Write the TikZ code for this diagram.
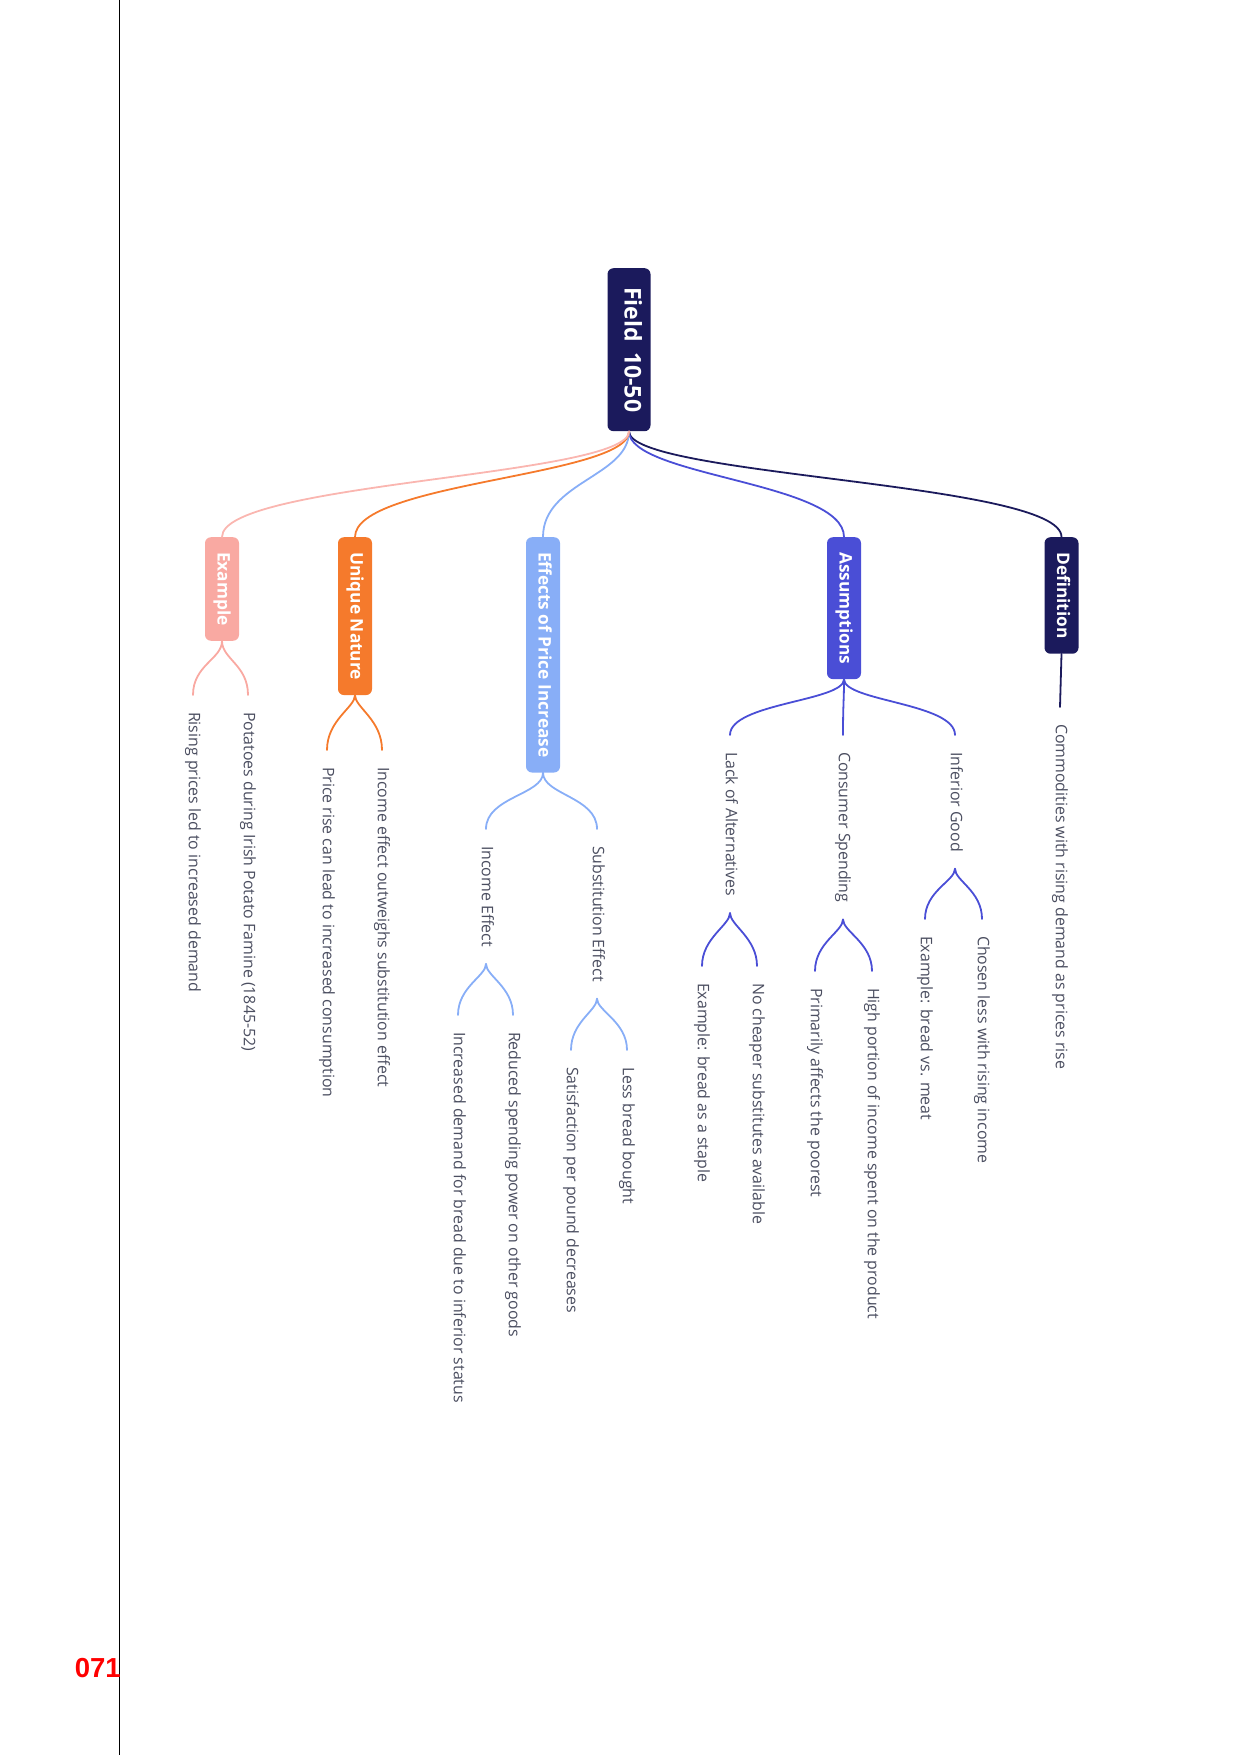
\documentclass[tikz,border=0pt]{standalone}
\usepackage{fontspec}
\setmainfont{Open Sans}
\newfontfamily\pagenumfont{Liberation Sans}
\usetikzlibrary{positioning}

\definecolor{rootnavy}{HTML}{1B1A5C}
\definecolor{assumpblue}{HTML}{4A4ED6}
\definecolor{effectsblue}{HTML}{88AEF7}
\definecolor{uniqueorange}{HTML}{F57A2C}
\definecolor{examplepink}{HTML}{F9A9A2}
\definecolor{leafgrey}{HTML}{4B4E60}

\begin{document}
\begin{tikzpicture}[x=1pt, y=-1pt,
  topic/.style={rounded corners=6pt, rotate=-90, anchor=west, text=white,
    font=\bfseries\fontsize{17.3}{20}\selectfont, minimum height=34pt,
    inner xsep=15pt, text height=13pt, text depth=4pt},
  leaf/.style={rotate=-90, anchor=west, inner xsep=0pt, inner ysep=0pt,
    outer xsep=17pt, text=leafgrey, font=\fontsize{15.9}{19}\selectfont,
    text height=12pt, text depth=3.8pt},
  link/.style={line width=1.8pt, line cap=round},
]
\useasboundingbox (0,0) rectangle (1241,1755);

% Page rule and number
\draw[line width=1.2pt] (119.5,0) -- (119.5,1755);
\node[anchor=base east, inner sep=0pt, text=red,
  font=\pagenumfont\bfseries\fontsize{27.5}{30}\selectfont] (pagenum) at (121,1677) {071};

% Root
\node[topic, fill=rootnavy, minimum width=163pt, minimum height=43pt,
  font=\bfseries\fontsize{23}{26}\selectfont] (root) at (629,268) {Field\hspace{0.45em}10-50};

% Main branches
\node[topic, fill=rootnavy] (definition) at (1061.5,537) {Definition};
\node[topic, fill=assumpblue] (assumptions) at (844,537) {Assumptions};
\node[topic, fill=effectsblue] (effects) at (543,537) {Effects of Price Increase};
\node[topic, fill=uniqueorange] (unique) at (355,537) {Unique Nature};
\node[topic, fill=examplepink] (example) at (222,537) {Example};

\draw[link, rootnavy] (root.east) .. controls +(0,45) and +(0,-55) .. (definition.west);
\draw[link, assumpblue] (root.east) .. controls +(0,45) and +(0,-55) .. (assumptions.west);
\draw[link, effectsblue] (root.east) .. controls +(0,45) and +(0,-55) .. (effects.west);
\draw[link, uniqueorange] (root.east) .. controls +(0,45) and +(0,-55) .. (unique.west);
\draw[link, examplepink!85!white] (root.east) .. controls +(0,45) and +(0,-55) .. (example.west);

% Definition
\node[leaf] (commodities) at (1060,707) {Commodities with rising demand as prices rise};
\draw[link, rootnavy] (definition.east) -- (commodities.west);

% Assumptions
\node[leaf] (inferior) at (955,735) {Inferior Good};
\node[leaf] (consumer) at (843,735) {Consumer Spending};
\node[leaf] (lackalt) at (730,735) {Lack of Alternatives};
\foreach \kid in {inferior,consumer,lackalt}
  \draw[link, assumpblue] (assumptions.east) .. controls +(0,22) and +(0,-32) .. (\kid.west);

\node[leaf] (chosenless) at (982,919) {Chosen less with rising income};
\node[leaf] (breadmeat) at (925,919) {Example: bread vs. meat};
\node[leaf] (highportion) at (872,971) {High portion of income spent on the product};
\node[leaf] (poorest) at (815,971) {Primarily affects the poorest};
\node[leaf] (nocheaper) at (757,966) {No cheaper substitutes available};
\node[leaf] (staple) at (702,966) {Example: bread as a staple};
\foreach \parent/\kid in {inferior/chosenless,inferior/breadmeat,consumer/highportion,
    consumer/poorest,lackalt/nocheaper,lackalt/staple}
  \draw[link, assumpblue] (\parent.east) .. controls +(0,12) and +(0,-28) .. (\kid.west);

% Effects of Price Increase
\node[leaf] (substitution) at (597,829) {Substitution Effect};
\node[leaf] (income) at (486,829) {Income Effect};
\foreach \kid in {substitution,income}
  \draw[link, effectsblue] (effects.east) .. controls +(0,22) and +(0,-32) .. (\kid.west);

\node[leaf] (lessbread) at (627,1050) {Less bread bought};
\node[leaf] (satisfaction) at (571,1050) {Satisfaction per pound decreases};
\node[leaf] (reducedspend) at (513,1015) {Reduced spending power on other goods};
\node[leaf] (moredemand) at (458,1015) {Increased demand for bread due to inferior status};
\foreach \parent/\kid in {substitution/lessbread,substitution/satisfaction,
    income/reducedspend,income/moredemand}
  \draw[link, effectsblue] (\parent.east) .. controls +(0,12) and +(0,-28) .. (\kid.west);

% Unique Nature
\node[leaf] (outweighs) at (382,750) {Income effect outweighs substitution effect};
\node[leaf] (pricerise) at (327,750) {Price rise can lead to increased consumption};
\foreach \kid in {outweighs,pricerise}
  \draw[link, uniqueorange] (unique.east) .. controls +(0,12) and +(0,-30) .. (\kid.west);

% Example
\node[leaf] (potatoes) at (248,695) {Potatoes during Irish Potato Famine (1845-52)};
\node[leaf] (risingprices) at (193,695) {Rising prices led to increased demand};
\foreach \kid in {potatoes,risingprices}
  \draw[link, examplepink] (example.east) .. controls +(0,18) and +(0,-30) .. (\kid.west);

\end{tikzpicture}
\end{document}
